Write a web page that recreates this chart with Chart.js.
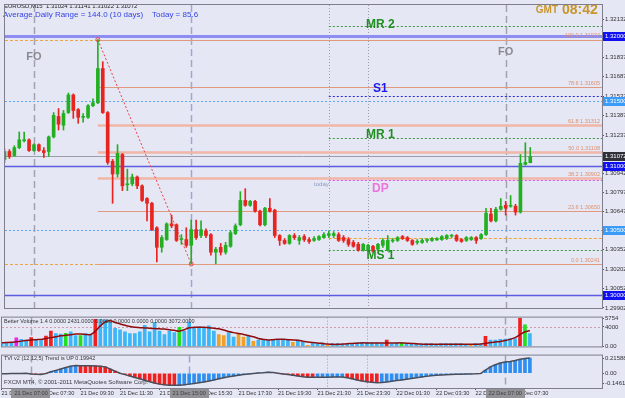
<!DOCTYPE html>
<html>
<head>
<meta charset="utf-8">
<script src="https://cdn.jsdelivr.net/npm/chart.js@4.4.1/dist/chart.umd.min.js"></script>
<style>
  html, body { margin: 0; padding: 0; background: #e5e7f5; }
  #wrap { position: relative; width: 625px; height: 398px; overflow: hidden; }
  canvas { position: absolute; left: 0; }
</style>
</head>
<body>
<div id="wrap">
  <canvas id="priceChart" width="625" height="313" style="top:0"></canvas>
  <canvas id="volChart" width="625" height="38" style="top:313px"></canvas>
  <canvas id="tviChart" width="625" height="47" style="top:351px"></canvas>
</div>
<script>
// EURUSD M15, bar 0 = 21 Dec 05:30, one bar per 15 min
const openPrices = [
  1.31049,1.31110,1.31079,1.31140,1.31193,1.31200,1.31117,1.31163,1.31117,1.31110,
  1.31223,1.31381,1.31313,1.31411,1.31547,1.31434,1.31374,1.31374,1.31464,1.31487,
  1.31751,1.31411,1.31034,1.30936,1.31087,1.30853,1.30860,1.30913,1.30845,1.30747,
  1.30710,1.30521,1.30370,1.30430,1.30551,1.30544,1.30430,1.30430,1.30385,1.30506,
  1.30461,1.30498,1.30468,1.30332,1.30370,1.30332,1.30378,1.30476,1.30544,1.30732,
  1.30694,1.30725,1.30649,1.30544,1.30672,1.30657,1.30461,1.30423,1.30400,1.30461,
  1.30423,1.30453,1.30430,1.30423,1.30430,1.30445,1.30461,1.30461,1.30468,1.30445,
  1.30430,1.30408,1.30393,1.30347,1.30347,1.30378,1.30355,1.30385,1.30347,1.30419,
  1.30423,1.30453,1.30445,1.30423,1.30408,1.30408,1.30423,1.30423,1.30427,1.30430,
  1.30438,1.30457,1.30461,1.30430,1.30423,1.30430,1.30445,1.30438,1.30468,1.30627,
  1.30574,1.30664,1.30694,1.30687,1.30687,1.30642,1.31011,1.31024];
const highPrices = [
  1.31132,1.31125,1.31155,1.31261,1.31261,1.31208,1.31170,1.31170,1.31140,1.31230,
  1.31411,1.31442,1.31427,1.31562,1.31555,1.31442,1.31404,1.31472,1.31517,1.31974,
  1.31804,1.31419,1.31049,1.31163,1.31095,1.30974,1.30936,1.30921,1.30853,1.30755,
  1.30717,1.30529,1.30461,1.30559,1.30619,1.30551,1.30468,1.30521,1.30581,1.30581,
  1.30574,1.30513,1.30476,1.30370,1.30400,1.30408,1.30498,1.30551,1.30800,1.30823,
  1.30732,1.30732,1.30657,1.30679,1.30747,1.30664,1.30468,1.30438,1.30468,1.30476,
  1.30461,1.30468,1.30445,1.30453,1.30461,1.30483,1.30498,1.30491,1.30483,1.30461,
  1.30445,1.30423,1.30408,1.30400,1.30393,1.30385,1.30400,1.30438,1.30461,1.30438,
  1.30453,1.30461,1.30453,1.30430,1.30430,1.30438,1.30438,1.30445,1.30445,1.30461,
  1.30468,1.30468,1.30468,1.30438,1.30453,1.30453,1.30453,1.30476,1.30672,1.30672,
  1.30679,1.30747,1.30725,1.30770,1.30702,1.31087,1.31178,1.31141];
const lowPrices = [
  1.31026,1.31057,1.31072,1.31132,1.31185,1.31110,1.31110,1.31110,1.31064,1.31072,
  1.31215,1.31276,1.31276,1.31404,1.31366,1.31328,1.31336,1.31366,1.31457,1.31479,
  1.31404,1.31011,1.30710,1.30913,1.30808,1.30808,1.30845,1.30823,1.30725,1.30574,
  1.30498,1.30257,1.30332,1.30423,1.30521,1.30415,1.30393,1.30370,1.30241,1.30430,
  1.30445,1.30445,1.30310,1.30242,1.30310,1.30317,1.30370,1.30468,1.30536,1.30687,
  1.30687,1.30642,1.30536,1.30536,1.30642,1.30445,1.30385,1.30393,1.30393,1.30430,
  1.30393,1.30415,1.30400,1.30415,1.30423,1.30438,1.30445,1.30445,1.30415,1.30408,
  1.30378,1.30370,1.30340,1.30340,1.30340,1.30332,1.30347,1.30370,1.30340,1.30408,
  1.30415,1.30430,1.30415,1.30385,1.30393,1.30400,1.30408,1.30415,1.30423,1.30423,
  1.30430,1.30445,1.30415,1.30408,1.30415,1.30423,1.30400,1.30430,1.30461,1.30566,
  1.30566,1.30657,1.30619,1.30679,1.30619,1.30634,1.31004,1.31022];
const closePrices = [
  1.31110,1.31072,1.31140,1.31200,1.31200,1.31117,1.31163,1.31117,1.31102,1.31223,
  1.31389,1.31321,1.31404,1.31547,1.31427,1.31374,1.31381,1.31464,1.31487,1.31751,
  1.31411,1.31026,1.30936,1.31095,1.30845,1.30860,1.30913,1.30845,1.30732,1.30710,
  1.30506,1.30370,1.30445,1.30551,1.30536,1.30423,1.30438,1.30385,1.30506,1.30445,
  1.30506,1.30461,1.30332,1.30355,1.30332,1.30385,1.30483,1.30536,1.30732,1.30694,
  1.30725,1.30649,1.30544,1.30672,1.30649,1.30461,1.30423,1.30400,1.30461,1.30445,
  1.30445,1.30430,1.30415,1.30438,1.30453,1.30468,1.30476,1.30476,1.30423,1.30423,
  1.30393,1.30378,1.30347,1.30393,1.30385,1.30340,1.30393,1.30423,1.30423,1.30423,
  1.30445,1.30438,1.30423,1.30393,1.30415,1.30423,1.30430,1.30438,1.30438,1.30453,
  1.30461,1.30461,1.30423,1.30415,1.30445,1.30445,1.30423,1.30468,1.30634,1.30574,
  1.30664,1.30687,1.30672,1.30694,1.30642,1.31019,1.31026,1.31072];

// Better Volume
const volumeValues = [
  720,720,840,1740,1440,1320,1800,1440,1440,2100,
  3120,2640,2520,2700,3000,2220,2220,2640,2520,5520,
  5520,5400,4920,3720,3420,3000,2640,2640,3000,4320,
  3000,4920,3120,2400,3120,2820,3900,3120,4920,3720,
  4020,3720,4200,3120,2400,2220,2820,1920,2640,1920,
  2220,1020,1320,1320,1320,1320,1320,1320,1320,840,
  1320,1020,240,720,600,720,240,600,600,420,
  600,600,720,840,840,720,720,600,1320,600,
  720,720,600,600,600,420,600,600,420,600,
  600,600,600,600,420,420,600,420,2040,1320,
  1320,1440,1500,1620,1620,5754,4440,2640];
// b normal, r climax up, g churn, m climax churn, y low volume
const volumeClass = ('bbbmbbrbbr' + 'rbbgbbgbbr' + 'bbbbbbbbbb' + 'bbbbbbgbbb' + 'bbbbyybbyy' +
  'bybbbbbbby' + 'bbybbbybbb' + 'bbbbbbbbrb' + 'bgbbbbbbbb' + 'bbbbbybbrb' + 'bbbbbrgb').split('');
const volumeAverage = [
  720,780,840,960,1080,1200,1320,1380,1440,1620,
  1800,1980,2160,2280,2400,2520,2520,2460,2400,3120,
  4200,5000,5250,4900,4600,4320,4080,3900,3840,3780,
  3720,3660,3600,3540,3420,3300,3120,3420,3840,3900,
  3900,3900,3840,3720,3600,3360,3060,2820,2640,2460,
  2220,1980,1620,1440,1320,1380,1440,1440,1380,1320,
  1260,1080,900,780,720,600,480,420,420,480,
  540,600,660,720,720,720,720,720,720,720,
  720,720,660,600,540,480,420,420,420,420,
  420,420,420,420,420,420,420,480,600,780,
  900,1020,1200,1440,1800,2400,3000,3240];

// TVI v2 (12,12,5)
const tviValues = [
  -0.008,-0.006,-0.005,-0.004,-0.003,-0.002,-0.010,-0.015,-0.018,-0.005,
  0.020,0.040,0.060,0.080,0.100,0.108,0.107,0.106,0.105,0.104,
  0.100,0.090,0.060,0.030,0.000,-0.020,-0.040,-0.060,-0.080,-0.100,
  -0.120,-0.140,-0.155,-0.165,-0.170,-0.172,-0.170,-0.165,-0.155,-0.145,
  -0.135,-0.125,-0.110,-0.095,-0.080,-0.065,-0.050,-0.040,-0.030,-0.020,
  -0.010,-0.003,0.003,0.008,0.015,0.010,0.000,-0.010,-0.020,-0.030,
  -0.040,-0.050,-0.056,-0.058,-0.057,-0.056,-0.056,-0.055,-0.054,-0.054,
  -0.065,-0.080,-0.095,-0.110,-0.122,-0.130,-0.135,-0.133,-0.125,-0.115,
  -0.105,-0.095,-0.085,-0.075,-0.065,-0.055,-0.045,-0.036,-0.030,-0.026,
  -0.022,-0.019,-0.016,-0.014,-0.012,-0.010,-0.008,-0.004,0.045,0.090,
  0.120,0.144,0.158,0.167,0.180,0.198,0.210,0.21588];

// axes
const timeTickBars = [0, 8, 16, 24, 32, 40, 48, 56, 64, 72, 80, 88, 96, 104];
const timeTickLabels = ['21 Dec 05:30', '21 Dec 07:30', '21 Dec 09:30', '21 Dec 11:30', '21 Dec 13:30',
  '21 Dec 15:30', '21 Dec 17:30', '21 Dec 19:30', '21 Dec 21:30', '21 Dec 23:30',
  '22 Dec 01:30', '22 Dec 03:30', '22 Dec 05:30', '22 Dec 07:30'];
const priceTickValues = [1.32132, 1.31837, 1.31687, 1.31537, 1.31387, 1.31237, 1.30942,
  1.30797, 1.30647, 1.30352, 1.30202, 1.30052, 1.29902];
const volumeTickValues = [5754, 4000, 0];
const volumeTickLabels = ['5754', '4000', '0.00'];
const tviTickValues = [0.21588, 0, -0.14617];
const tviTickLabels = ['0.21588', '0.00', '-0.14617'];

// levels and markers
const roundLevels = [1.32, 1.31, 1.30];
const halfLevels = [1.315, 1.305];
const lastPrice = 1.31072;
const dayOpenPrice = 1.30445;
const swingHigh = { bar: 19, price: 1.31974 };
const swingLow = { bar: 38, price: 1.30241 };
const fibRatios = ['100.0', '78.6', '61.8', '50.0', '38.2', '23.6', '0.0'];
const fibPrices = [1.31974, 1.31605, 1.31312, 1.31108, 1.30902, 1.30650, 1.30241];
const pivotNames = ['MR 2', 'S1', 'MR 1', 'DP', 'MS 1'];
const pivotPrices = [1.32083, 1.31540, 1.31215, 1.30890, 1.30347];
const pivotStartBar = 66;
const sessionBars = [6, 38, 66, 74, 102];
const sessionLabels = ['21 Dec 07:00', '21 Dec 15:00', '', '', '22 Dec 07:00'];

const FONT = 'Liberation Sans';
const bars = openPrices.map((_, i) => i);
const xRange = { type: 'linear', min: 0.1, max: 121.6, offset: false, display: false };

function rightAxis(min, max, values, labelFn) {
  return {
    position: 'right', min: min, max: max,
    afterFit(s) { s.width = 23; },
    afterBuildTicks(s) { s.ticks = values.map(v => ({ value: v })); },
    ticks: { font: { family: FONT, size: 6 }, color: '#333', padding: 1, autoSkip: false,
      callback: (v, i) => labelFn(v, i) },
    grid: { drawOnChartArea: false, tickLength: 2, color: '#555' },
    border: { color: '#6c6c78' }
  };
}

// vertical session lines, shared by all panes
function drawSessions(chart) {
  const { ctx, chartArea: a, scales: { x } } = chart;
  ctx.save();
  sessionBars.forEach((b, i) => {
    const px = Math.round(x.getPixelForValue(b)) + 0.5;
    if (i === 2 || i === 3) {
      ctx.strokeStyle = '#9c9cab'; ctx.lineWidth = 1; ctx.setLineDash([1, 2]);
    } else {
      ctx.strokeStyle = i === 1 ? '#a4a4d2' : '#a2a2b0'; ctx.lineWidth = 1.5; ctx.setLineDash([7, 4]);
    }
    ctx.beginPath(); ctx.moveTo(px, a.top); ctx.lineTo(px, a.bottom); ctx.stroke();
  });
  ctx.restore();
}

function frame(chart) {
  const { ctx, chartArea: a } = chart;
  ctx.save();
  ctx.strokeStyle = '#7e7e8c'; ctx.lineWidth = 1; ctx.setLineDash([]);
  ctx.strokeRect(a.left - 0.5, a.top - 0.5, a.right - a.left + 1, a.bottom - a.top + 1);
  ctx.restore();
}

function text(ctx, str, px, py, font, color, align, base) {
  ctx.font = font; ctx.fillStyle = color;
  ctx.textAlign = align || 'left'; ctx.textBaseline = base || 'middle';
  ctx.fillText(str, px, py);
}

const priceOverlay = {
  id: 'priceOverlay',
  beforeDatasetsDraw(chart) {
    const { ctx, chartArea: a, scales: { x, y } } = chart;
    const X = b => x.getPixelForValue(b);
    const Y = p => Math.round(y.getPixelForValue(p)) + 0.5;
    const hline = (p, x0, x1, color, width, dash) => {
      ctx.strokeStyle = color; ctx.lineWidth = width; ctx.setLineDash(dash || []);
      ctx.beginPath(); ctx.moveTo(x0, Y(p)); ctx.lineTo(x1, Y(p)); ctx.stroke();
    };
    drawSessions(chart);
    ctx.save();
    ctx.beginPath(); ctx.rect(a.left, a.top, a.right - a.left, a.bottom - a.top); ctx.clip();
    // yesterday high / low up to the swing bar
    hline(swingHigh.price, a.left, X(swingHigh.bar), '#f0a448', 1, [3, 2]);
    hline(swingLow.price, a.left, X(swingHigh.bar), '#f0a448', 1, [3, 2]);
    // fibonacci retracement
    fibPrices.forEach((p, i) => {
      const wide = i >= 2 && i <= 4;
      hline(p, X(swingHigh.bar), a.right, wide ? '#f0b6a6' : '#e29a7e', wide ? 2.5 : 1.2);
    });
    halfLevels.forEach(p => hline(p, a.left, a.right, '#5ea8f6', 1, [2, 2]));
    roundLevels.forEach((p, i) => hline(p, a.left, a.right, i === 0 ? '#8c8cf2' : '#5c5ce2', i === 0 ? 3 : 1.5));
    hline(lastPrice, a.left, a.right, '#9c9cab', 1);
    hline(dayOpenPrice, X(pivotStartBar), a.right, '#f2a232', 1, [3, 2]);
    const pivotColors = ['#3c963c', '#2a2ae6', '#3c963c', '#e44ce4', '#3c963c'];
    pivotPrices.forEach((p, i) => hline(p, X(pivotStartBar), a.right, pivotColors[i], 1, [2, 2]));
    ctx.restore();
  },
  afterDatasetsDraw(chart) {
    const { ctx, chartArea: a, scales: { x, y } } = chart;
    const X = b => x.getPixelForValue(b);
    const Y = p => y.getPixelForValue(p);
    ctx.save();
    // fib labels at the right edge
    fibPrices.forEach((p, i) => {
      text(ctx, fibRatios[i] + ' ' + p.toFixed(5), a.right - 2, Y(p) - 1, '5.5px ' + FONT, '#e0906c', 'right', 'bottom');
    });
    // pivot names
    const pivotColors = ['#1f8f1f', '#1a1aee', '#1f8f1f', '#ec74dc', '#1f8f1f'];
    const pivotTextPrice = [1.32090, 1.31592, 1.31238, 1.30822, 1.30302];
    pivotNames.forEach((n, i) => {
      text(ctx, n, X(76.5), Y(pivotTextPrice[i]), 'bold 12px ' + FONT, pivotColors[i], 'center');
    });
    text(ctx, 'today', X(64.5), Y(1.30853), '6px ' + FONT, '#8a9ac0', 'center');
    text(ctx, 'FO', X(sessionBars[0]), Y(1.31842), 'bold 11px ' + FONT, '#8a8a8e', 'center');
    text(ctx, 'FO', X(sessionBars[4]), Y(1.31880), 'bold 11px ' + FONT, '#8a8a8e', 'center');
    // header
    text(ctx, 'EURUSD,M15  1.31024 1.31141 1.31022 1.31072', 4, 6, '6px ' + FONT, '#222', 'left');
    text(ctx, 'Average Daily Range = 144.0 (10 days)    Today = 85.6', 3, 15, '8px ' + FONT, '#3444e6', 'left');
    text(ctx, 'GMT', 558, 10, 'bold 10px ' + FONT, '#c8962c', 'right');
    text(ctx, '08:42', 562, 10, 'bold 14px ' + FONT, '#c8962c', 'left');
    ctx.restore();
  },
  afterDraw(chart) {
    const { ctx, chartArea: a, scales: { y } } = chart;
    frame(chart);
    // price boxes on the right axis
    const boxes = [
      [roundLevels[0], '#1010f0'], [halfLevels[0], '#3a9cf8'], [lastPrice, '#303038'],
      [roundLevels[1], '#1010f0'], [halfLevels[1], '#3a9cf8'], [roundLevels[2], '#1010f0']
    ];
    ctx.save();
    boxes.forEach(([p, c]) => {
      const py = Math.round(y.getPixelForValue(p));
      ctx.fillStyle = c;
      ctx.fillRect(a.right + 1, py - 4, 24, 9);
      text(ctx, p.toFixed(5), a.right + 3, py + 0.5, '6px ' + FONT, '#ffffff', 'left');
    });
    ctx.restore();
  }
};

const candleColors = openPrices.map((o, i) => closePrices[i] >= o ? '#22b022' : '#e82420');

new Chart(document.getElementById('priceChart').getContext('2d'), {
  type: 'bar',
  data: {
    datasets: [{
      label: 'body',
      order: 0,
      data: bars.map(i => ({ x: i, y: [openPrices[i], closePrices[i]] })),
      backgroundColor: candleColors,
      barThickness: 3,
      minBarLength: 1,
      grouped: false
    }, {
      label: 'wick',
      order: 1,
      data: bars.map(i => ({ x: i, y: [lowPrices[i], highPrices[i]] })),
      backgroundColor: candleColors,
      barThickness: 1,
      grouped: false
    }, {
      type: 'line',
      label: 'fib',
      order: 2,
      data: [{ x: swingHigh.bar, y: swingHigh.price }, { x: swingLow.bar, y: swingLow.price }],
      borderColor: '#ee4040',
      borderWidth: 1,
      borderDash: [2, 2],
      pointRadius: 2,
      pointBackgroundColor: 'rgba(0,0,0,0)',
      pointBorderColor: '#ee4040',
      pointBorderWidth: 1
    }]
  },
  options: {
    responsive: false,
    animation: false,
    layout: { padding: { left: 2, top: 2, right: 0, bottom: 1 } },
    plugins: { legend: { display: false }, tooltip: { enabled: false } },
    scales: {
      x: xRange,
      y: rightAxis(1.29901, 1.32242, priceTickValues, v => v.toFixed(5))
    }
  },
  plugins: [priceOverlay]
});

// Better Volume pane
const volumePalette = { b: '#3cb6f6', r: '#ee2020', g: '#20e020', m: '#ee22ee', y: '#f0a028' };
new Chart(document.getElementById('volChart').getContext('2d'), {
  type: 'bar',
  data: {
    datasets: [{
      type: 'line',
      order: 0,
      data: bars.map(i => ({ x: i, y: volumeAverage[i] })),
      borderColor: '#8e0c0c',
      borderWidth: 1.5,
      pointRadius: 0,
      tension: 0.3
    }, {
      order: 1,
      data: bars.map(i => ({ x: i, y: volumeValues[i] })),
      backgroundColor: volumeClass.map(c => volumePalette[c]),
      barThickness: 3,
      grouped: false
    }]
  },
  options: {
    responsive: false,
    animation: false,
    layout: { padding: { left: 2, top: 3, right: 0, bottom: 2 } },
    plugins: { legend: { display: false }, tooltip: { enabled: false } },
    scales: {
      x: xRange,
      y: rightAxis(0, 5900, volumeTickValues, (v, i) => volumeTickLabels[i])
    }
  },
  plugins: [{
    id: 'volOverlay',
    beforeDatasetsDraw(chart) {
      const { ctx, chartArea: a, scales: { y } } = chart;
      drawSessions(chart);
      ctx.save();
      ctx.strokeStyle = '#d09aa8'; ctx.lineWidth = 1; ctx.setLineDash([2, 2]);
      const py = Math.round(y.getPixelForValue(volumeTickValues[1])) + 0.5;
      ctx.beginPath(); ctx.moveTo(a.left, py); ctx.lineTo(a.right, py); ctx.stroke();
      ctx.restore();
    },
    afterDraw(chart) {
      frame(chart);
      const { ctx } = chart;
      ctx.save();
      text(ctx, 'Better Volume 1.4 0.0000 2431.0000 0.0000 0.0000 0.0000 0.0000 3072.0000', 4, 8, '5.5px ' + FONT, '#333', 'left');
      ctx.restore();
    }
  }]
});

// TVI pane
const tviColors = tviValues.map((v, i) => (i === 0 || v >= tviValues[i - 1]) ? '#2f8ff0' : '#f02020');
new Chart(document.getElementById('tviChart').getContext('2d'), {
  type: 'bar',
  data: {
    datasets: [{
      type: 'line',
      order: 0,
      data: bars.map(i => ({ x: i, y: tviValues[i] })),
      borderColor: '#4a4e5a',
      borderWidth: 1.5,
      pointRadius: 0
    }, {
      order: 1,
      data: bars.map(i => ({ x: i, y: tviValues[i] })),
      backgroundColor: tviColors,
      barThickness: 3,
      grouped: false
    }]
  },
  options: {
    responsive: false,
    animation: false,
    layout: { padding: { left: 2, top: 2, right: 0, bottom: 0 } },
    plugins: { legend: { display: false }, tooltip: { enabled: false } },
    scales: {
      x: {
        type: 'linear', min: 0.1, max: 121.6, offset: false,
        afterFit(s) { s.height = 10; },
        afterBuildTicks(s) { s.ticks = timeTickBars.map(v => ({ value: v })); },
        ticks: { font: { family: FONT, size: 5.6 }, color: '#333', padding: 0, align: 'start',
          autoSkip: false, maxRotation: 0, minRotation: 0,
          callback: (v, i) => timeTickLabels[i] },
        grid: { drawOnChartArea: false, tickLength: 2, color: '#555', offset: false },
        border: { color: '#6c6c78' }
      },
      y: rightAxis(-0.21, 0.25, tviTickValues, (v, i) => tviTickLabels[i])
    }
  },
  plugins: [{
    id: 'tviOverlay',
    beforeDatasetsDraw(chart) { drawSessions(chart); },
    afterDraw(chart) {
      frame(chart);
      const { ctx, chartArea: a, scales: { x } } = chart;
      ctx.save();
      text(ctx, 'TVI v2 (12,12,5) Trend is UP 0.19942', 4, 7, '5.5px ' + FONT, '#333', 'left');
      text(ctx, 'FXCM MT4, \u00a9 2001-2011 MetaQuotes Software Corp.', 4, 31, '6px ' + FONT, '#3a3a44', 'left');
      // labels of the session lines on the time axis
      sessionBars.forEach((b, i) => {
        if (!sessionLabels[i]) return;
        const px = x.getPixelForValue(b);
        ctx.font = '5.6px ' + FONT;
        const w = ctx.measureText(sessionLabels[i]).width + 6;
        ctx.fillStyle = '#929296';
        ctx.fillRect(Math.round(px - w / 2), a.bottom + 1, Math.round(w), 9);
        text(ctx, sessionLabels[i], px, a.bottom + 5.5, '5.6px ' + FONT, '#3c3c3c', 'center');
      });
      ctx.restore();
    }
  }]
});
</script>
</body>
</html>
